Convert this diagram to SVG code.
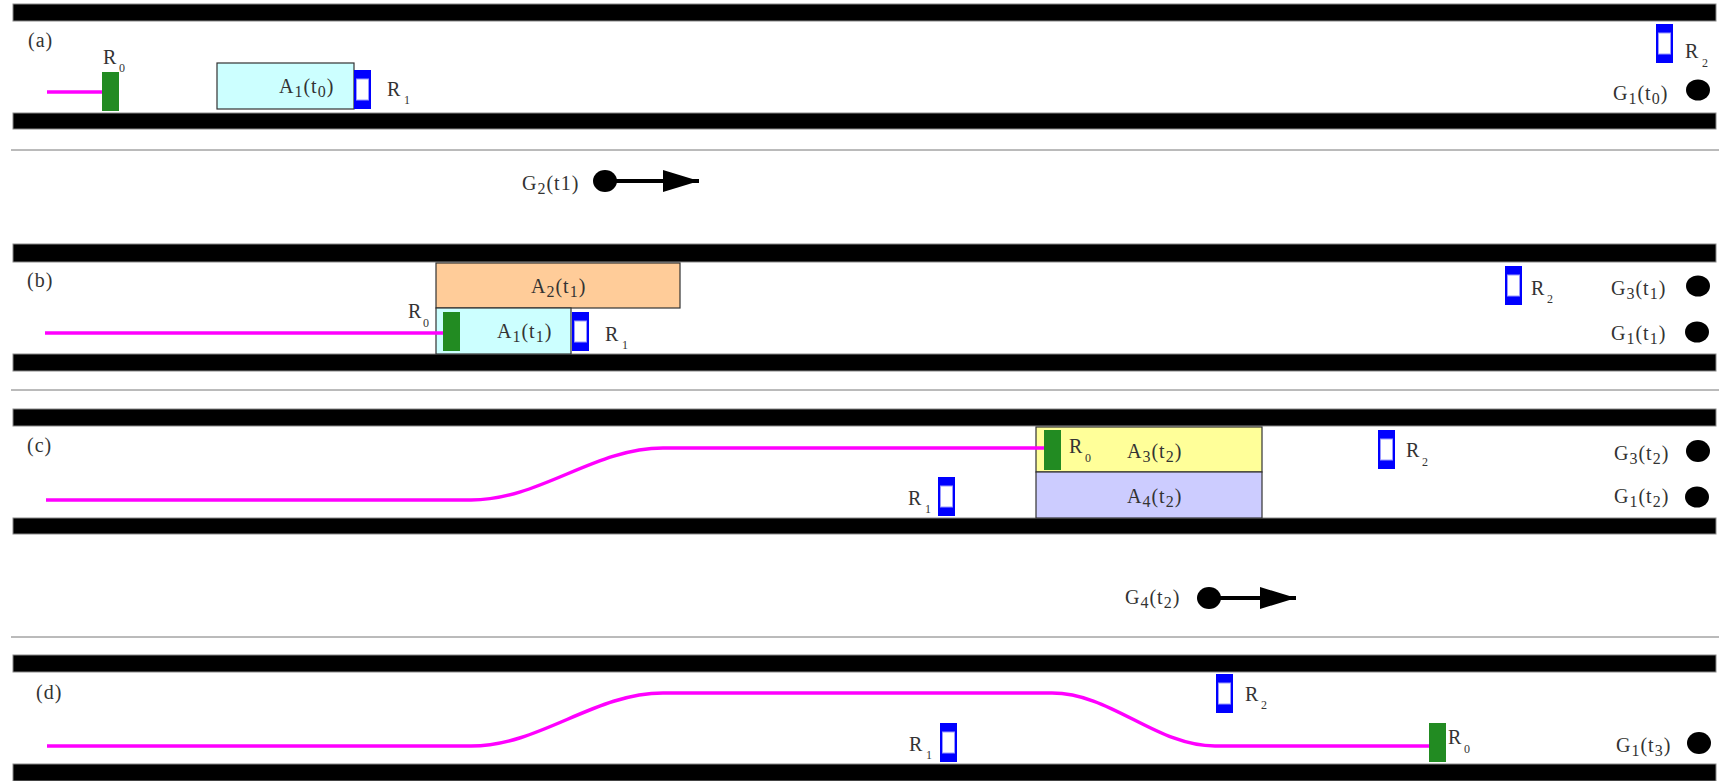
<svg xmlns="http://www.w3.org/2000/svg" xmlns:xlink="http://www.w3.org/1999/xlink" width="1719" height="781" viewBox="0 0 1719 781">
<style>
.bar{fill:#000;stroke:#888;stroke-width:1}
.sep{stroke:#777;stroke-width:1}
.t{font-family:"Liberation Serif","Times New Roman",serif;font-size:20px;fill:#333;letter-spacing:1px}
.s{font-size:16px}
.rs{font-size:12px}
.path{fill:none;stroke:#FF00FF;stroke-width:3.5}
.green{fill:#228B22}
.gob{fill:#000}
.box{stroke:#333;stroke-width:1.2}
.arr{stroke:#000;stroke-width:4}
</style>
<defs>
<g id="robot">
<rect x="0" y="0" width="17" height="39" fill="#0000FF"/>
<rect x="2.5" y="9" width="12" height="21" fill="#fff" stroke="#9999ff" stroke-width="1"/>
</g>
<marker id="ah" viewBox="0 0 36 22" markerWidth="36" markerHeight="22" refX="36" refY="11" orient="auto" markerUnits="userSpaceOnUse">
<path d="M0,0 L36,11 L0,22 Z" fill="#000"/>
</marker>
</defs>
<rect width="1719" height="781" fill="#fff"/>

<g id="roads">
<rect class="bar" x="13" y="4" width="1703" height="17"/>
<rect class="bar" x="13" y="113" width="1703" height="16"/>
<rect class="bar" x="13" y="244" width="1703" height="18"/>
<rect class="bar" x="13" y="354" width="1703" height="17"/>
<rect class="bar" x="13" y="409" width="1703" height="17"/>
<rect class="bar" x="13" y="518" width="1703" height="16"/>
<rect class="bar" x="13" y="655" width="1703" height="17"/>
<rect class="bar" x="13" y="764" width="1703" height="17"/>
<line class="sep" x1="11" y1="150" x2="1719" y2="150"/>
<line class="sep" x1="11" y1="390" x2="1719" y2="390"/>
<line class="sep" x1="11" y1="637" x2="1719" y2="637"/>
</g>

<g id="labels">
<text class="t" x="28" y="47">(a)</text>
<text class="t" x="27" y="287">(b)</text>
<text class="t" x="27" y="452">(c)</text>
<text class="t" x="36" y="699">(d)</text>
</g>

<g id="areas">
<g id="A1_t0"><rect class="box" x="217" y="63" width="137" height="46" fill="#CCFFFF"/>
<text class="t" x="279" y="93">A<tspan class="s" dy="4">1</tspan><tspan dy="-4">(t</tspan><tspan class="s" dy="4">0</tspan><tspan dy="-4">)</tspan></text></g>
<g id="A2_t1"><rect class="box" x="436" y="263" width="244" height="45" fill="#FFCC99"/>
<text class="t" x="531" y="293">A<tspan class="s" dy="4">2</tspan><tspan dy="-4">(t</tspan><tspan class="s" dy="4">1</tspan><tspan dy="-4">)</tspan></text></g>
<g id="A1_t1"><rect class="box" x="436" y="308" width="135" height="46" fill="#CCFFFF"/>
<text class="t" x="497" y="338">A<tspan class="s" dy="4">1</tspan><tspan dy="-4">(t</tspan><tspan class="s" dy="4">1</tspan><tspan dy="-4">)</tspan></text></g>
<g id="A3_t2"><rect class="box" x="1036" y="427" width="226" height="45" fill="#FFFF99"/>
<text class="t" x="1127" y="458">A<tspan class="s" dy="4">3</tspan><tspan dy="-4">(t</tspan><tspan class="s" dy="4">2</tspan><tspan dy="-4">)</tspan></text></g>
<g id="A4_t2"><rect class="box" x="1036" y="472" width="226" height="46" fill="#CCCCFF"/>
<text class="t" x="1127" y="503">A<tspan class="s" dy="4">4</tspan><tspan dy="-4">(t</tspan><tspan class="s" dy="4">2</tspan><tspan dy="-4">)</tspan></text></g>
</g>

<g id="connectors">
<path class="path" d="M47,92 H102"/>
<path class="path" d="M45,333 H443"/>
<path class="path" d="M46,500 H471 C540,500 594,448 663,448 H1044"/>
<path class="path" d="M47,746 H471 C540,746 594,693 663,693 H1052 C1111,693 1156,746 1215,746 H1430"/>
<line class="arr" x1="605" y1="181" x2="699" y2="181" marker-end="url(#ah)"/>
<line class="arr" x1="1209" y1="598" x2="1296" y2="598" marker-end="url(#ah)"/>
</g>

<g id="R0_a"><rect class="green" x="102" y="72" width="17" height="39"/>
<text class="t" x="103" y="64">R<tspan class="rs" x="119" y="72">0</tspan></text></g>
<g id="R0_b"><rect class="green" x="443" y="312" width="17" height="39"/>
<text class="t" x="408" y="318">R<tspan class="rs" x="423" y="327">0</tspan></text></g>
<g id="R0_c"><rect class="green" x="1044" y="430" width="17" height="40"/>
<text class="t" x="1069" y="453">R<tspan class="rs" x="1085" y="462">0</tspan></text></g>
<g id="R0_d"><rect class="green" x="1429" y="723" width="17" height="39"/>
<text class="t" x="1448" y="744">R<tspan class="rs" x="1464" y="753">0</tspan></text></g>

<g id="R1_a"><use xlink:href="#robot" x="354" y="70"/>
<text class="t" x="387" y="96">R<tspan class="rs" x="404" y="104">1</tspan></text></g>
<g id="R2_a"><use xlink:href="#robot" x="1656" y="24"/>
<text class="t" x="1685" y="58">R<tspan class="rs" x="1702" y="67">2</tspan></text></g>
<g id="R1_b"><use xlink:href="#robot" x="572" y="312"/>
<text class="t" x="605" y="341">R<tspan class="rs" x="622" y="349">1</tspan></text></g>
<g id="R2_b"><use xlink:href="#robot" x="1505" y="266"/>
<text class="t" x="1531" y="295">R<tspan class="rs" x="1547" y="303">2</tspan></text></g>
<g id="R1_c"><use xlink:href="#robot" x="938" y="477"/>
<text class="t" x="908" y="505">R<tspan class="rs" x="925" y="513">1</tspan></text></g>
<g id="R2_c"><use xlink:href="#robot" x="1378" y="430"/>
<text class="t" x="1406" y="457">R<tspan class="rs" x="1422" y="466">2</tspan></text></g>
<g id="R1_d"><use xlink:href="#robot" x="940" y="723"/>
<text class="t" x="909" y="751">R<tspan class="rs" x="926" y="759">1</tspan></text></g>
<g id="R2_d"><use xlink:href="#robot" x="1216" y="674"/>
<text class="t" x="1245" y="701">R<tspan class="rs" x="1261" y="709">2</tspan></text></g>

<g id="G1_t0"><ellipse class="gob" cx="1698" cy="90" rx="12" ry="10.5"/>
<text class="t" x="1613" y="100">G<tspan class="s" dy="4">1</tspan><tspan dy="-4">(t</tspan><tspan class="s" dy="4">0</tspan><tspan dy="-4">)</tspan></text></g>
<g id="G2_t1"><ellipse class="gob" cx="605" cy="181" rx="12" ry="11"/>
<text class="t" x="522" y="190">G<tspan class="s" dy="4">2</tspan><tspan dy="-4">(t1)</tspan></text></g>
<g id="G3_t1"><ellipse class="gob" cx="1698" cy="286" rx="12" ry="10.5"/>
<text class="t" x="1611" y="295">G<tspan class="s" dy="4">3</tspan><tspan dy="-4">(t</tspan><tspan class="s" dy="4">1</tspan><tspan dy="-4">)</tspan></text></g>
<g id="G1_t1"><ellipse class="gob" cx="1697" cy="332" rx="12" ry="10.5"/>
<text class="t" x="1611" y="340">G<tspan class="s" dy="4">1</tspan><tspan dy="-4">(t</tspan><tspan class="s" dy="4">1</tspan><tspan dy="-4">)</tspan></text></g>
<g id="G3_t2"><ellipse class="gob" cx="1698" cy="451" rx="12" ry="11"/>
<text class="t" x="1614" y="460">G<tspan class="s" dy="4">3</tspan><tspan dy="-4">(t</tspan><tspan class="s" dy="4">2</tspan><tspan dy="-4">)</tspan></text></g>
<g id="G1_t2"><ellipse class="gob" cx="1697" cy="497" rx="12" ry="10.5"/>
<text class="t" x="1614" y="503">G<tspan class="s" dy="4">1</tspan><tspan dy="-4">(t</tspan><tspan class="s" dy="4">2</tspan><tspan dy="-4">)</tspan></text></g>
<g id="G4_t2"><ellipse class="gob" cx="1209" cy="598" rx="12" ry="11"/>
<text class="t" x="1125" y="604">G<tspan class="s" dy="4">4</tspan><tspan dy="-4">(t</tspan><tspan class="s" dy="4">2</tspan><tspan dy="-4">)</tspan></text></g>
<g id="G1_t3"><ellipse class="gob" cx="1699" cy="743" rx="12" ry="11"/>
<text class="t" x="1616" y="752">G<tspan class="s" dy="4">1</tspan><tspan dy="-4">(t</tspan><tspan class="s" dy="4">3</tspan><tspan dy="-4">)</tspan></text></g>
</svg>
